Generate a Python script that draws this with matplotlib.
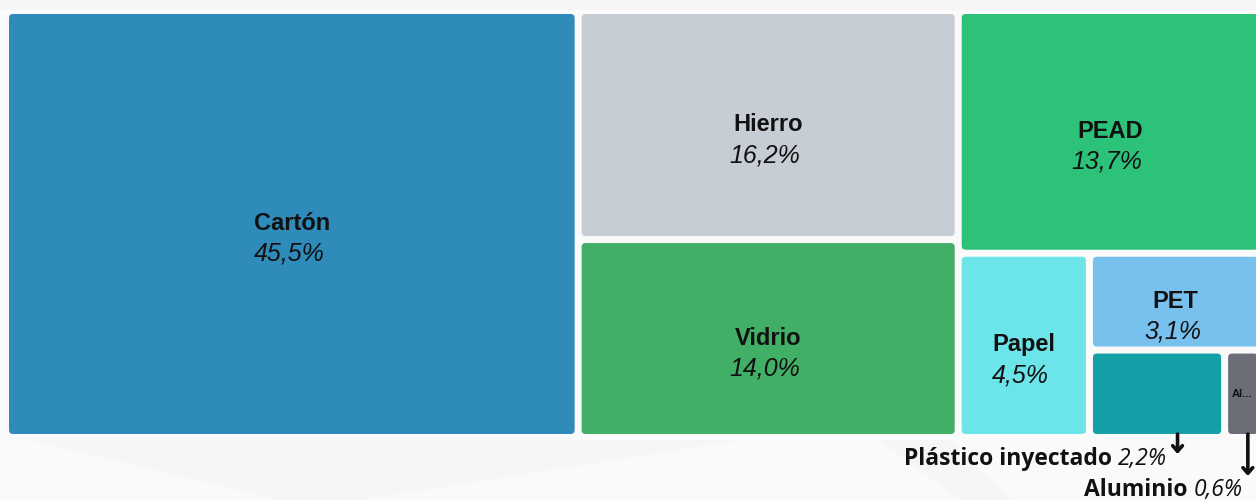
import matplotlib
matplotlib.use("Agg")
import matplotlib.pyplot as plt
from matplotlib.patches import FancyBboxPatch, Polygon, FancyArrowPatch

# Data
materials = ["Cartón", "Hierro", "Vidrio", "PEAD", "Papel", "PET", "Plástico inyectado", "Aluminio"]
shares = [45.5, 16.2, 14.0, 13.7, 4.5, 3.1, 2.2, 0.6]
colors = ["#2E8BBA", "#C6CDD5", "#41AF65", "#2CC27A", "#6CE5EA", "#78C1EE", "#14A0A6", "#6B6E76"]

W_PX, H_PX = 1256, 500


# --- squarified treemap layout (Bruls et al.) ---
def normalize(values, dx, dy):
    total = sum(values)
    return [v * dx * dy / total for v in values]


def layoutrow(sizes, x, y, dx, dy):
    width = sum(sizes) / dy
    rects = []
    for s in sizes:
        rects.append((x, y, width, s / width))
        y += s / width
    return rects


def layoutcol(sizes, x, y, dx, dy):
    height = sum(sizes) / dx
    rects = []
    for s in sizes:
        rects.append((x, y, s / height, height))
        x += s / height
    return rects


def layout(sizes, x, y, dx, dy):
    return layoutrow(sizes, x, y, dx, dy) if dx >= dy else layoutcol(sizes, x, y, dx, dy)


def leftover(sizes, x, y, dx, dy):
    covered = sum(sizes)
    if dx >= dy:
        width = covered / dy
        return x + width, y, dx - width, dy
    height = covered / dx
    return x, y + height, dx, dy - height


def worst_ratio(sizes, x, y, dx, dy):
    return max(max(r[2] / r[3], r[3] / r[2]) for r in layout(sizes, x, y, dx, dy))


def squarify(sizes, x, y, dx, dy):
    if len(sizes) == 0:
        return []
    if len(sizes) == 1:
        return layout(sizes, x, y, dx, dy)
    i = 1
    while i < len(sizes) and worst_ratio(sizes[:i], x, y, dx, dy) >= worst_ratio(sizes[:i + 1], x, y, dx, dy):
        i += 1
    current, remaining = sizes[:i], sizes[i:]
    lx, ly, ldx, ldy = leftover(current, x, y, dx, dy)
    return layout(current, x, y, dx, dy) + squarify(remaining, lx, ly, ldx, ldy)


# domain of the treemap in pixel coords (runs a bit past the right edge, like the original)
X0, Y0, DX, DY = 5.5, 10.5, 1256, 427
GAP = 3.5
rects = squarify(normalize(shares, DX, DY), X0, Y0, DX, DY)

fig = plt.figure(figsize=(W_PX / 100, H_PX / 100), dpi=100)
fig.patch.set_facecolor("#FAFAFA")
ax = fig.add_axes([0, 0, 1, 1])
ax.set_xlim(0, W_PX)
ax.set_ylim(H_PX, 0)
ax.axis("off")

# faint background shapes
bg = [
    [(0, 0), (1256, 0), (1256, 10), (0, 10)],
    [(30, 440), (740, 440), (360, 500), (280, 500)],
    [(880, 440), (950, 440), (1010, 500), (960, 500)],
]
for pts in bg:
    ax.add_patch(Polygon(pts, closed=True, facecolor="#F6F6F6", edgecolor="none", zorder=0))

name_font = dict(family="Liberation Sans", fontsize=17, fontweight="bold", color="#111111")
pct_font = dict(family="Liberation Sans", fontsize=18, fontstyle="italic", color="#111111")
out_name = dict(family="Open Sans", fontsize=16.5, fontweight="bold", color="#111111")
out_pct = dict(family="Open Sans", fontsize=16.5, fontstyle="italic", color="#111111")


def pct(v):
    return f"{v:.1f}".replace(".", ",") + "%"


cells = []
for (x, y, w, h), name, v, c in zip(rects, materials, shares, colors):
    cx, cy, cw, ch = x + GAP, y + GAP, w - 2 * GAP, h - 2 * GAP
    ax.add_patch(FancyBboxPatch((cx, cy), cw, ch,
                                boxstyle="round,pad=0,rounding_size=4",
                                facecolor=c, edgecolor="none", zorder=2))
    cells.append((cx, cy, cw, ch))
    mx, my = cx + cw / 2, cy + ch / 2
    if ch > 80 and cw > 60 and v > 2.5:
        ax.text(mx, my + 6, name, ha="center", va="baseline", zorder=3, **name_font)
        ax.text(mx - 3, my + 37, pct(v), ha="center", va="baseline", zorder=3, **pct_font)

# small cells: labels outside with arrows (index, arrow pos in cell, arrow length, baseline offset, text right)
small = [(6, 0.66, 20, 31, 1167), (7, 0.66, 42, 62, 1243)]
for idx, frac, length, base, text_right in small:
    cx, cy, cw, ch = cells[idx]
    arr_x = cx + cw * frac
    bottom = cy + ch
    ax.add_patch(FancyArrowPatch((arr_x, bottom), (arr_x, bottom + length),
                                 arrowstyle="->,head_length=4,head_width=3.5",
                                 linewidth=2.6, color="#111111", zorder=4,
                                 shrinkA=0, shrinkB=0))
    t = ax.text(text_right, bottom + base, pct(shares[idx]),
                ha="right", va="baseline", zorder=4, **out_pct)
    ax.annotate(materials[idx] + " ", xy=(0, 0), xycoords=t, ha="right", va="bottom",
                zorder=4, **out_name)

# truncated label inside the aluminium cell
cx, cy, cw, ch = cells[7]
ax.text(cx + cw / 2 - 1, cy + ch / 2, materials[7][:2] + "...", ha="center", va="center",
        family="Liberation Sans", fontsize=8, fontweight="bold", color="#111111", zorder=3)

fig.savefig("out.png", dpi=100, facecolor=fig.get_facecolor())
